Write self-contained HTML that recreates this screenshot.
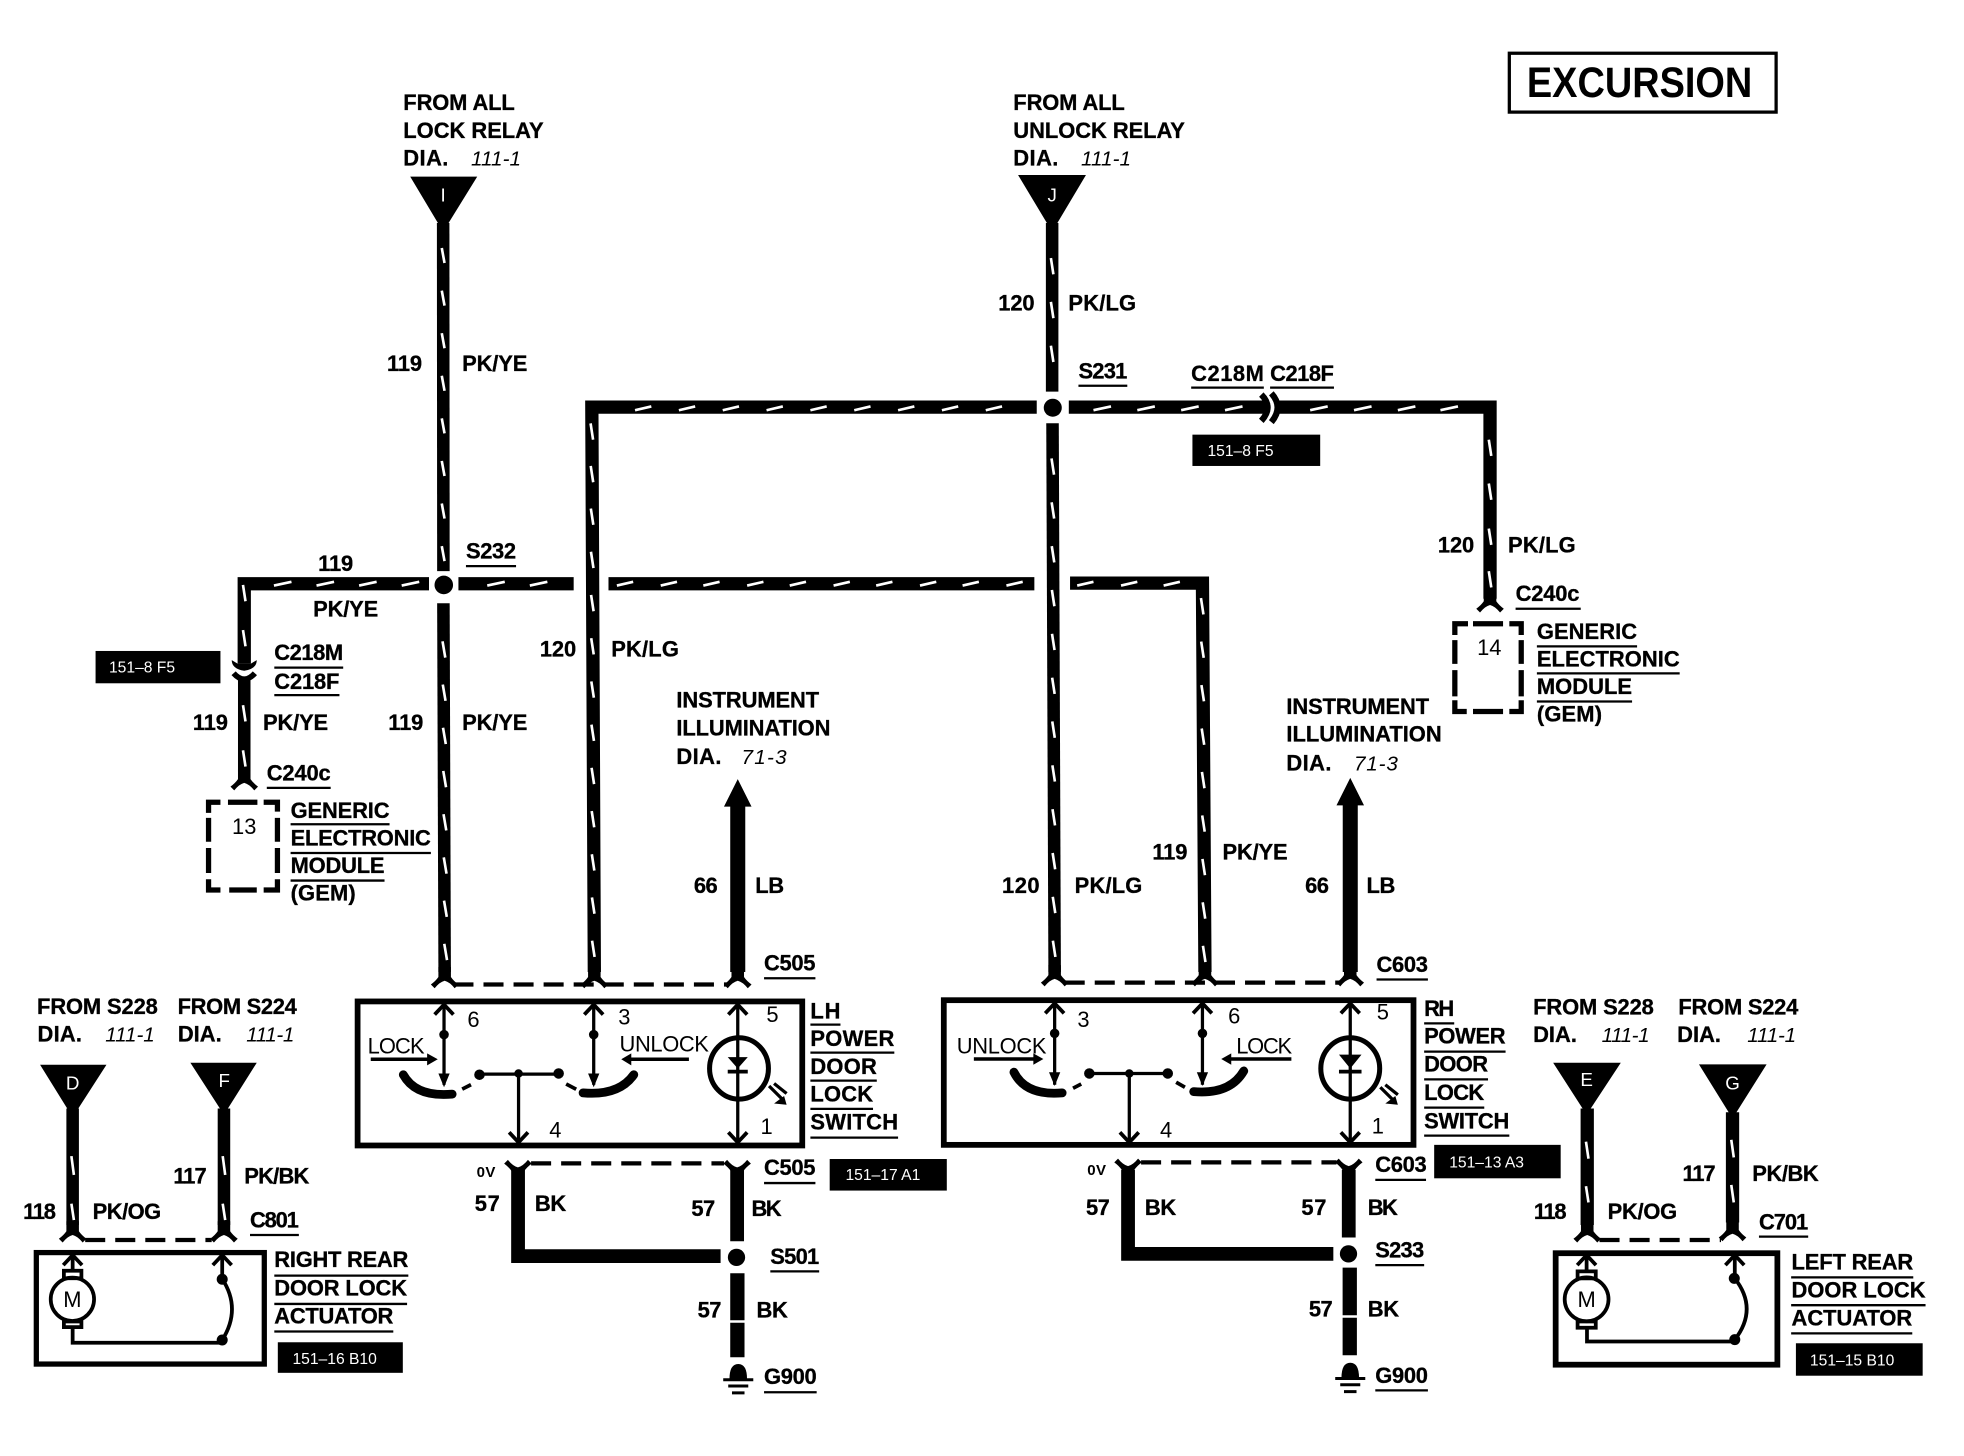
<!DOCTYPE html>
<html><head><meta charset="utf-8"><title>Excursion power door lock wiring diagram</title>
<style>
html,body{margin:0;padding:0;background:#fff}
svg{display:block;width:1964px;height:1456px}
text{font-family:"Liberation Sans",sans-serif;fill:#000}
.b{font-weight:700;font-size:17.5px;stroke:#000;stroke-width:.25px}
.i{font-style:italic;font-size:16.5px}
.r{font-size:17.5px}
.w{fill:#fff;font-size:12.5px}
.l{fill:#fff;font-size:15px;text-anchor:middle}
.c{text-anchor:middle}
</style></head><body>
<svg xmlns="http://www.w3.org/2000/svg" viewBox="0 0 1568 1162.4" preserveAspectRatio="none">
<defs>
<path id="fu" d="M-5 -14L-5 -6Q-7 -3 -11 0L-8 3Q-4 -2 0 -3Q4 -2 8 3L11 0Q7 -3 5 -6L5 -14Z"/>
<path id="fd" d="M-5 14L-5 6Q-7 3 -11 0L-8 -3Q-4 2 0 3Q4 2 8 -3L11 0Q7 3 5 6L5 14Z"/>
<path id="cu" d="M-7.5 8L0 0L7.5 8" fill="none" stroke="#000" stroke-width="3"/>
<path id="cd" d="M-7.5 -8L0 0L7.5 -8" fill="none" stroke="#000" stroke-width="3"/>
<g id="gnd"><path d="M-7 12Q-7 0 0 0Q7 0 7 12Z"/><path d="M-12 12.5H12M-8 17.5H8M-5 23H5" stroke="#000" stroke-width="2.4" fill="none"/></g>
</defs>
<rect width="1568" height="1162.4" fill="#fff"/>

<!-- wires -->
<g fill="none" stroke="#000" stroke-width="10" stroke-linejoin="miter">
<path d="M353.8 178L354 456"/>
<path d="M354 481.6L355 776"/>
<path d="M840 178V312.7"/>
<path d="M840.3 337.9L842 776"/>
<path d="M827.7 325H472.5L474.5 776" stroke-width="10.6"/>
<path d="M853.3 325H1010" stroke-width="10.6"/>
<path d="M1021 325H1189.6V478" stroke-width="10.6"/>
<path d="M342.5 466H195V530" stroke-width="10.6"/>
<path d="M366 466H458" stroke-width="10.6"/>
<path d="M485.8 466H825.8" stroke-width="10.6"/>
<path d="M854.3 465.5H960L962 776" stroke-width="10.6"/>
<path d="M195 543V616"/>
<path d="M589 636V776" stroke-width="12"/>
<path d="M1078 636V776" stroke-width="12"/>
<path d="M413.6 934V1002.8H575.3" stroke-width="11"/>
<path d="M588.5 934V991" stroke-width="11"/>
<path d="M588.7 1016.5V1054M588.7 1056V1083.6" stroke-width="11.4"/>
<path d="M900.6 934V1001H1064.5" stroke-width="11"/>
<path d="M1076.8 934V988" stroke-width="11"/>
<path d="M1077.6 1012V1050M1077.6 1052V1082" stroke-width="11.4"/>
<path d="M58 885V978"/>
<path d="M178.8 885V978"/>
<path d="M1267.2 885V978" stroke-width="10.6"/>
<path d="M1383.2 888V976" stroke-width="10.6"/>
</g>
<!-- triangles -->
<path d="M327.5 141H381L353.8 185ZM812.8 139.7H867L840 185ZM32 850H85L58 892ZM152 848.4H205L178.8 890ZM1240 848.4H1294L1266.7 890ZM1356.4 849.7H1410.4L1383.2 893Z"/>
<text class="l" x="353.8" y="161">I</text><text class="l" x="840" y="161">J</text>
<text class="l" x="58" y="870">D</text><text class="l" x="179" y="868">F</text>
<text class="l" x="1266.7" y="867">E</text><text class="l" x="1383.2" y="870">G</text>
<!-- arrowheads -->
<path d="M578 644H600L589 622ZM1067 643H1089L1078 621Z"/>
<!-- nodes -->
<circle cx="354.3" cy="467" r="7.4"/><circle cx="840.5" cy="325.5" r="7.2"/>
<circle cx="588" cy="1003.8" r="6.9"/><circle cx="1076.6" cy="1001" r="6.9"/>
<!-- white ticks -->
<g fill="none" stroke="#fff" stroke-width="2.1">
<path d="M352.7 198l2.2 12m-2.2 22l2.2 12m-2.2 22l2.2 12m-2.2 22l2.2 12m-2.2 22l2.2 12m-2.2 22l2.2 12m-2.2 22l2.2 12m-2.2 22l2.2 12"/>
<path d="M353.3 512l2.2 13m-2 21.5l2.2 13m-2 21.5l2.2 13m-2 21.5l2.2 13m-2 21.5l2.2 13m-2 21.5l2.2 13m-2 21.5l2.2 13m-2 21.5l2.2 13"/>
<path d="M471.5 338l2 13m-1.9 21l2 13m-1.9 21l2 13m-1.9 21.5l2 13m-1.9 21.5l2 13m-1.9 21.5l2 13m-1.9 21.5l2 13m-1.9 21.5l2 13m-1.9 21.5l2 13m-1.9 21.5l2 13m-1.9 21.5l2 13m-1.9 21.5l2 13m-1.9 21.5l2 13"/>
<path d="M839 206l2 13m-2 22l2 13m-2 22l2 13"/>
<path d="M839.5 366l2 13m-1.9 22l2 13m-1.9 22l2 13m-1.9 22l2 13m-1.9 22l2 13m-1.9 22l2 13m-1.9 22l2 13m-1.9 22l2 13m-1.9 22l2 13m-1.9 22l2 13m-1.9 22l2 13m-1.9 22l2 13"/>
<path d="M958.8 477.5l2 13m-1.8 21.7l2 13m-1.8 21.7l2 13m-1.8 21.7l2 13m-1.8 21.7l2 13m-1.8 21.7l2 13m-1.8 21.7l2 13m-1.8 21.7l2 13m-1.8 21.7l2 13"/>
<path d="M1188.6 351l2 13m-2 22l2 13m-2 23l2 13m-2 21l2 13"/>
<path d="M194 467l2 13m-2 23l2 13M194 563l2 13m-2 23l2 13"/>
<path d="M57 923l2 15m-2 23l2 13M177.8 923l2 15m-2 23l2 13"/>
<path d="M1266.2 911.5l2 13.5m-2 22l2 13M1382.2 910l2 14m-2 22l2 14"/>
<path d="M873 327.5l14-3m21 3l14-3m21 3l14-3m21 3l14-3M1046 327.5l14-3m21 3l14-3m21 3l14-3m20 3l14-3"/>
<path d="M507 327.5l13-3m22 3l13-3m22 3l13-3m22 3l13-3m22 3l13-3m22 3l13-3m22 3l13-3m22 3l13-3m22 3l13-3"/>
<path d="M218.7 467.5l14-3m20 3l14-3m20 3l14-3m20 3l14-3M389 467.5l14-3m20 3l14-3"/>
<path d="M492.5 467.5l13-3m22 3l13-3m21 3l13-3m22 3l13-3m21 3l13-3m22 3l13-3m21 3l13-3m22 3l13-3m21 3l13-3m22 3l13-3"/>
<path d="M860 467.5l13-3m22 3l13-3m21 3l13-3"/>
</g>
<!-- connector forks -->
<use href="#fu" x="355" y="786"/><use href="#fu" x="474.5" y="786"/><use href="#fu" x="589" y="786"/>
<use href="#fu" x="842" y="784.5"/><use href="#fu" x="962" y="784.5"/><use href="#fu" x="1078" y="784.5"/>
<use href="#fd" x="413.5" y="929"/><use href="#fd" x="588.5" y="929"/>
<use href="#fd" x="900.6" y="928"/><use href="#fd" x="1076.8" y="928"/>
<use href="#fu" x="58" y="989"/><use href="#fu" x="178.8" y="989"/>
<use href="#fu" x="1267.2" y="989"/><use href="#fu" x="1383.2" y="988"/>
<use href="#fu" x="195" y="628"/><use href="#fu" x="1189.6" y="486"/>
<!-- C218 inline connectors -->
<path d="M185 527L190 530H200L205 527Q205 534 195 535.5Q185 534 185 527Z"/>
<path d="M186.5 537.5Q195 547 203.5 537.5" fill="none" stroke="#000" stroke-width="4.5"/>
<path d="M1007 315Q1017 325 1007 336" fill="none" stroke="#000" stroke-width="5"/>
<path d="M1015 314Q1025 325 1015 337" fill="none" stroke="#000" stroke-width="5"/>
<!-- dashed connector lines -->
<g fill="none" stroke="#000" stroke-width="3.4" stroke-dasharray="16 8">
<path d="M362 786H582"/><path d="M850 784.5H1070"/>
<path d="M424 928.8H578"/><path d="M911 928H1067"/>
<path d="M68 990H169"/><path d="M1277 990H1374"/>
</g>
<!-- dashed GEM boxes -->
<g fill="none" stroke="#000" stroke-width="4.2">
<path d="M166.5 649V640.5H176M182 640.5H205.5M210.5 640.5H221.5V648M166.5 653V672M221.5 653V672M166.5 677V697M221.5 677V697M166.5 702V710.5H176M183 710.5H205M210.5 710.5H221.5V702"/>
<path d="M1161.5 507V498H1172M1176 498H1200M1205 498H1214.5V507M1161.5 511V530M1214.5 511V530M1161.5 535V556M1214.5 535V556M1161.5 559V568H1171M1176 568H1200M1205 568H1214.5V559"/>
</g>
<!-- switch boxes and actuator boxes -->
<g fill="none" stroke="#000">
<rect x="285.5" y="799.5" width="355" height="115" stroke-width="4.6"/>
<rect x="753.5" y="798.5" width="375" height="115.5" stroke-width="4.6"/>
<rect x="29" y="1000" width="182" height="89" stroke-width="4.2"/>
<rect x="1242" y="1000.5" width="177" height="89" stroke-width="4.6"/>
<rect x="1205" y="42.5" width="213" height="47" stroke-width="2.6"/>
</g>
<text x="1219" y="77.5" style="font-weight:700;font-size:34px" textLength="180" lengthAdjust="spacingAndGlyphs">EXCURSION</text>

<!-- switch internals -->
<g fill="none" stroke="#000" stroke-width="2.6">
<path d="M354.5 802V866M474 802V866M414 857V912M589 802V912M382.8 857.5H446"/>
<path d="M842 802V866M960 802V866M901.6 857V912M1078 802V912M869.7 857H932.3"/>
<path d="M296 845.7H343M550 845.7H502M777.5 845.5H826M1031 845.5H982" stroke-width="2.8"/>
<path d="M369 869.5L376 866M452 865.4L460 869.6M856.7 868.8L863.2 865.4M939 864L946 868" stroke-width="3"/>
<path d="M322 858Q332 876 361 873.5M506 858Q494 875 465.5 872.5M809.5 856Q819 875 848 872.5M993 855Q982 874 953 871.5" stroke-width="7" stroke-linecap="round"/>
<ellipse cx="590" cy="853" rx="23.5" ry="24.5" stroke-width="4"/>
<ellipse cx="1078" cy="853" rx="23.5" ry="24.5" stroke-width="4"/>
<path d="M581 855.5H597M1069 855.5H1087" stroke-width="3"/>
<path d="M614 867L624 877M618 865L628 873M1102 868L1112 878M1106 866L1116 874" stroke-width="2.6"/>
</g>
<path d="M581 844H597L589 853ZM1069 842H1087L1078 853ZM350 857H359L354.5 868ZM469.5 857H478.5L474 868ZM837.5 856H846.5L842 867ZM955.5 856H964.5L960 867ZM349.5 845.7L341 841V850.5ZM496 845.7L504 841V850.5ZM833 845.5L825 841V850ZM975 845.5L983 841V850ZM618 881L628 882L626 875ZM1106 881L1116 882L1114 875Z"/>
<g>
<circle cx="354.5" cy="826" r="3.8"/><circle cx="474" cy="826" r="3.8"/><circle cx="382.8" cy="858" r="4.2"/><circle cx="414" cy="857" r="3.4"/><circle cx="446" cy="857" r="4.2"/>
<circle cx="842" cy="825" r="3.8"/><circle cx="960" cy="825" r="3.8"/><circle cx="869.7" cy="857" r="4.2"/><circle cx="901.6" cy="857" r="3.4"/><circle cx="932.3" cy="857" r="4.2"/>
</g>
<use href="#cu" x="354.5" y="802"/><use href="#cu" x="474" y="802"/><use href="#cu" x="589" y="802"/>
<use href="#cd" x="414" y="912"/><use href="#cd" x="589" y="912"/>
<use href="#cu" x="842" y="801"/><use href="#cu" x="960" y="801"/><use href="#cu" x="1078" y="801"/>
<use href="#cd" x="901.6" y="912"/><use href="#cd" x="1078" y="912"/>
<use href="#cu" x="58" y="1002"/><use href="#cu" x="177.4" y="1002"/>
<use href="#cu" x="1266.7" y="1002"/><use href="#cu" x="1385" y="1002"/>

<!-- actuator internals -->
<g fill="none" stroke="#000" stroke-width="3">
<path d="M58 1003V1014M177.4 1003V1021M177.4 1021Q193 1045 177.4 1069.8M58 1059V1072H177"/>
<circle cx="57.8" cy="1037.3" r="17.3"/>
<rect x="51" y="1014.5" width="14" height="6"/><rect x="51" y="1055" width="14" height="4.5"/>
<path d="M1266.7 1003V1014M1385 1003V1020.6M1385 1020.6Q1404 1045 1385 1069.5M1267 1060V1071H1385"/>
<circle cx="1266.7" cy="1037.3" r="17.5"/>
<rect x="1259.5" y="1015" width="14.5" height="5.6"/><rect x="1259.5" y="1055" width="14.5" height="5"/>
</g>
<circle cx="177.4" cy="1021.3" r="4.4"/><circle cx="177.4" cy="1069.8" r="4.4"/>
<circle cx="1384.6" cy="1020.6" r="4.4"/><circle cx="1385" cy="1069.5" r="4.4"/>
<text class="r c" x="57.8" y="1043.5">M</text><text class="r c" x="1266.7" y="1043.5">M</text>

<!-- grounds -->
<use href="#gnd" x="589.4" y="1089"/><use href="#gnd" x="1078" y="1088"/>

<!-- tags -->
<g>
<rect x="952" y="347" width="102" height="25"/><rect x="76.3" y="519.7" width="99.7" height="25.8"/>
<rect x="662.4" y="925.3" width="93.5" height="25.2"/><rect x="1145" y="914" width="101" height="26.7"/>
<rect x="221.8" y="1071.6" width="99.8" height="24.4"/><rect x="1433.8" y="1072.4" width="101.2" height="25.9"/>
</g>
<text class="w" x="964" y="364">151–8 F5</text><text class="w" x="87" y="537">151–8 F5</text>
<text class="w" x="675" y="942">151–17 A1</text><text class="w" x="1157" y="932">151–13 A3</text>
<text class="w" x="233.5" y="1089">151–16 B10</text><text class="w" x="1445" y="1090">151–15 B10</text>

<!-- underlines -->
<path fill="none" stroke="#000" stroke-width="1.8" d="M861 308H900M951 309.5H1009M1014 309.5H1065M372 452H412M219 533H274M219 555H271M213 629H264M232 658H311M232 681H344M232 703H307M1210 486H1262M1227 516H1307M1227 537.6H1341M1227 560H1303M610 781H651M647 818H671M647 840.4H714M647 862.7H700M647 885.3H697M647 908.2H717M1099 782H1140M1137 817H1161M1137 839.6H1202M1137 861.7H1188M1137 884.3H1185M1137 906.6H1205M610 944.5H651M1098 942H1138.5M199.6 986H238.6M219 1018.4H326M219 1041H325M219 1063H314M615 1015H654M1098 1010H1137M610 1111.5H652M1098 1110H1140M1404.3 987.3H1443.6M1430 1019.8H1527.5M1430 1042H1537.3M1430 1064.5H1526.7"/>

<!-- labels -->
<g class="b">
<text x="322" y="88" textLength="89">FROM ALL</text>
<text x="322" y="110" textLength="112">LOCK RELAY</text>
<text x="322" y="132" textLength="36">DIA.</text>
<text x="809" y="88" textLength="89">FROM ALL</text>
<text x="809" y="110" textLength="137">UNLOCK RELAY</text>
<text x="809" y="132" textLength="36">DIA.</text>
<text x="309" y="296" textLength="28">119</text><text x="369" y="296" textLength="52">PK/YE</text>
<text x="797" y="248" textLength="29">120</text><text x="853" y="248" textLength="54">PK/LG</text>
<text x="861" y="302" textLength="39">S231</text>
<text x="951" y="304" textLength="58">C218M</text><text x="1014" y="304" textLength="51">C218F</text>
<text x="1148" y="441" textLength="29">120</text><text x="1204" y="441" textLength="54">PK/LG</text>
<text x="1210" y="480" textLength="51">C240c</text>
<text x="1227" y="510" textLength="80">GENERIC</text><text x="1227" y="532" textLength="114">ELECTRONIC</text><text x="1227" y="554" textLength="76">MODULE</text><text x="1227" y="576" textLength="52">(GEM)</text>
<text x="232" y="653" textLength="79">GENERIC</text><text x="232" y="675" textLength="112">ELECTRONIC</text><text x="232" y="697" textLength="75">MODULE</text><text x="232" y="719" textLength="52">(GEM)</text>
<text x="254" y="456" textLength="28">119</text><text x="250" y="492" textLength="52">PK/YE</text>
<text x="372" y="446" textLength="40">S232</text>
<text x="219" y="527" textLength="55">C218M</text><text x="219" y="550" textLength="52">C218F</text>
<text x="154" y="583" textLength="28">119</text><text x="210" y="583" textLength="52">PK/YE</text>
<text x="310" y="583" textLength="28">119</text><text x="369" y="583" textLength="52">PK/YE</text>
<text x="213" y="623" textLength="51">C240c</text>
<text x="431" y="524" textLength="29">120</text><text x="488" y="524" textLength="54">PK/LG</text>
<text x="540" y="565" textLength="114">INSTRUMENT</text><text x="540" y="587" textLength="123">ILLUMINATION</text><text x="540" y="610" textLength="36">DIA.</text>
<text x="1027" y="570" textLength="114">INSTRUMENT</text><text x="1027" y="592" textLength="124">ILLUMINATION</text><text x="1027" y="615" textLength="36">DIA.</text>
<text x="554" y="713" textLength="19">66</text><text x="603" y="713" textLength="23">LB</text>
<text x="1042" y="713" textLength="19">66</text><text x="1091" y="713" textLength="23">LB</text>
<text x="800" y="713" textLength="30">120</text><text x="858" y="713" textLength="54">PK/LG</text>
<text x="920" y="686" textLength="28">119</text><text x="976" y="686" textLength="52">PK/YE</text>
<text x="610" y="775" textLength="41">C505</text><text x="1099" y="776" textLength="41">C603</text>
<text x="647" y="813" textLength="24">LH</text><text x="647" y="835" textLength="67">POWER</text><text x="647" y="857.5" textLength="53">DOOR</text><text x="647" y="879.5" textLength="50">LOCK</text><text x="647" y="901.6" textLength="70">SWITCH</text>
<text x="1137" y="811" textLength="24">RH</text><text x="1137" y="833" textLength="65">POWER</text><text x="1137" y="855.5" textLength="51">DOOR</text><text x="1137" y="878" textLength="48">LOCK</text><text x="1137" y="901" textLength="68">SWITCH</text>
<text x="610" y="938" textLength="41">C505</text><text x="1098" y="935.5" textLength="41">C603</text>
<text x="379" y="967" textLength="20">57</text><text x="427" y="967" textLength="25">BK</text>
<text x="552" y="971" textLength="19">57</text><text x="600" y="971" textLength="24">BK</text>
<text x="557" y="1052" textLength="19">57</text><text x="604" y="1052" textLength="25">BK</text>
<text x="867" y="970" textLength="19">57</text><text x="914" y="970" textLength="25">BK</text>
<text x="1039" y="970" textLength="20">57</text><text x="1092" y="970" textLength="24">BK</text>
<text x="1045" y="1051" textLength="19">57</text><text x="1092" y="1051" textLength="25">BK</text>
<text x="615" y="1009" textLength="39">S501</text><text x="1098" y="1004" textLength="39">S233</text>
<text x="610" y="1105" textLength="42">G900</text><text x="1098" y="1104" textLength="42">G900</text>
<text x="29.6" y="809.5" textLength="96.4">FROM S228</text><text x="30" y="831.6" textLength="35.5">DIA.</text>
<text x="141.8" y="809.5" textLength="95.2">FROM S224</text><text x="142" y="831.6" textLength="35">DIA.</text>
<text x="18.5" y="973.4" textLength="26.2">118</text><text x="74" y="973.4" textLength="54.7">PK/OG</text>
<text x="138.4" y="945" textLength="26.6">117</text><text x="195" y="945" textLength="52">PK/BK</text>
<text x="199.6" y="979.8" textLength="39">C801</text>
<text x="219" y="1011.7" textLength="107">RIGHT REAR</text><text x="219" y="1034.4" textLength="106">DOOR LOCK</text><text x="219" y="1056.5" textLength="95">ACTUATOR</text>
<text x="1224" y="810" textLength="96.4">FROM S228</text><text x="1224" y="832" textLength="35">DIA.</text>
<text x="1340" y="810" textLength="95.7">FROM S224</text><text x="1339" y="832" textLength="35">DIA.</text>
<text x="1224.6" y="973.2" textLength="26.1">118</text><text x="1283.5" y="973.2" textLength="55.5">PK/OG</text>
<text x="1343.3" y="943" textLength="26.4">117</text><text x="1399" y="943" textLength="53">PK/BK</text>
<text x="1404.3" y="981.4" textLength="39.3">C701</text>
<text x="1430.3" y="1013.4" textLength="97.2">LEFT REAR</text><text x="1430.3" y="1035.7" textLength="107">DOOR LOCK</text><text x="1430.3" y="1058.4" textLength="96.4">ACTUATOR</text>
</g>
<g class="i">
<text x="376" y="132" textLength="40">111-1</text><text x="863" y="132" textLength="40">111-1</text>
<text x="592" y="610" textLength="36">71-3</text><text x="1081" y="615" textLength="35">71-3</text>
<text x="84" y="831.6" textLength="39.6">111-1</text><text x="196.6" y="831.6" textLength="38.4">111-1</text>
<text x="1278.7" y="832" textLength="38.3">111-1</text><text x="1395" y="832" textLength="39">111-1</text>
</g>
<text x="380.5" y="939.5" style="font-weight:700;font-size:12px" textLength="15">0V</text>
<text x="868" y="938" style="font-weight:700;font-size:12px" textLength="15">0V</text>
<g class="r">
<text x="293.5" y="841" textLength="45.5">LOCK</text><text x="494.6" y="839.6" textLength="71.4">UNLOCK</text>
<text x="763.8" y="841" textLength="71.7">UNLOCK</text><text x="987" y="841" textLength="44.6">LOCK</text>
<text class="c" x="378" y="820">6</text><text class="c" x="498.5" y="818">3</text><text class="c" x="443.4" y="908">4</text><text class="c" x="616.7" y="816">5</text><text class="c" x="612" y="905.5">1</text>
<text class="c" x="865" y="820">3</text><text class="c" x="985.4" y="817">6</text><text class="c" x="931" y="908">4</text><text class="c" x="1104" y="814">5</text><text class="c" x="1100" y="905">1</text>
<text class="c" x="195" y="666">13</text><text class="c" x="1189" y="523">14</text>
</g>
</svg>
</body></html>
